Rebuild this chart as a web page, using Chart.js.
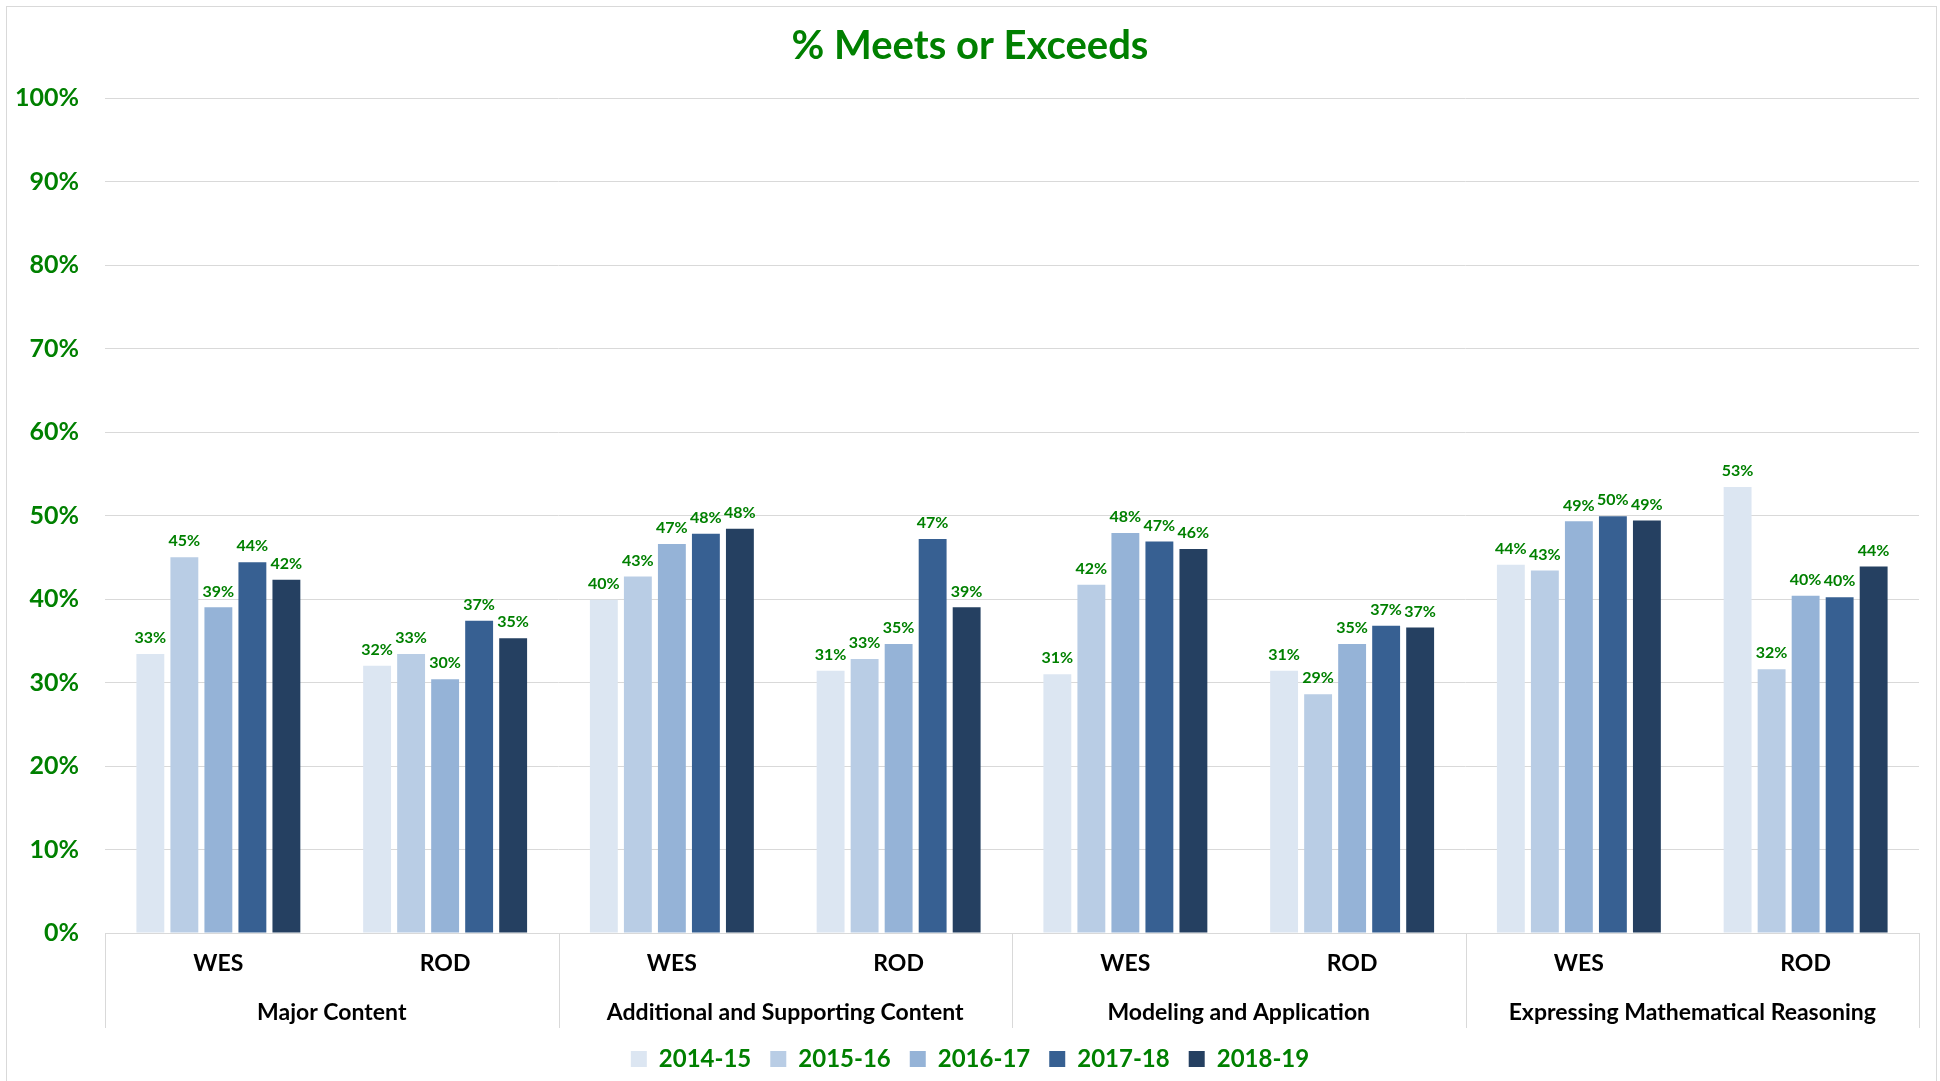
<!DOCTYPE html>
<html lang="en">
<head>
    <meta charset="UTF-8">
    <title>% Meets or Exceeds</title>
    <script src="https://cdn.jsdelivr.net/npm/chart.js"></script>
    <style>
        html, body { margin: 0; padding: 0; background: #ffffff; }
        #wrap { width: 1940px; height: 1081px; }
    </style>
</head>
<body>
    <div id="wrap"><canvas id="chart" width="1940" height="1081"></canvas></div>

    <script>
        // categories (schools inside each content group)
        const schools = ['WES', 'ROD', 'WES', 'ROD', 'WES', 'ROD', 'WES', 'ROD'];
        const groups = ['Major Content', 'Additional and Supporting Content', 'Modeling and Application', 'Expressing Mathematical Reasoning'];
        const years = ['2014-15', '2015-16', '2016-17', '2017-18', '2018-19'];

        // % meets or exceeds, one array per year
        const y2014 = [33.4, 32.0, 39.9, 31.4, 31.0, 31.4, 44.1, 53.4];
        const y2015 = [45.0, 33.4, 42.7, 32.8, 41.7, 28.6, 43.4, 31.6];
        const y2016 = [39.0, 30.4, 46.6, 34.6, 47.9, 34.6, 49.3, 40.4];
        const y2017 = [44.4, 37.4, 47.8, 47.2, 46.9, 36.8, 49.9, 40.2];
        const y2018 = [42.3, 35.3, 48.4, 39.0, 46.0, 36.6, 49.4, 43.9];

        const yTicks = [0, 10, 20, 30, 40, 50, 60, 70, 80, 90, 100];

        const colors = ['#dce6f2', '#b9cde5', '#95b3d7', '#376092', '#254061'];
        const green = '#008000';
        const fontFam = 'Lato, "Open Sans", sans-serif';

        const series = [y2014, y2015, y2016, y2017, y2018];

        // value labels above bars
        const barLabels = {
            id: 'barLabels',
            afterDatasetsDraw(chart) {
                const ctx = chart.ctx;
                ctx.save();
                ctx.fillStyle = green;
                ctx.font = 'bold 16px ' + fontFam;
                ctx.textAlign = 'center';
                ctx.textBaseline = 'bottom';
                chart.data.datasets.forEach((ds, i) => {
                    chart.getDatasetMeta(i).data.forEach((bar, j) => {
                        ctx.fillText(Math.round(ds.data[j]) + '%', bar.x, bar.y - 8);
                    });
                });
                ctx.restore();
            }
        };

        // group separators below the axis + outer frame
        const groupLines = {
            id: 'groupLines',
            beforeDraw(chart) {
                const ctx = chart.ctx;
                ctx.save();
                ctx.strokeStyle = '#d9d9d9';
                ctx.lineWidth = 1;
                ctx.strokeRect(6.5, 6.5, 1930, 1200);
                ctx.restore();
            },
            afterDraw(chart) {
                const ctx = chart.ctx;
                const x = chart.scales.x;
                const x2 = chart.scales.x2;
                ctx.save();
                ctx.strokeStyle = '#d9d9d9';
                ctx.lineWidth = 1;
                for (let i = 0; i <= groups.length; i++) {
                    const px = Math.round(x.getPixelForValue(i * 2 - 0.5)) + 0.5;
                    ctx.beginPath();
                    ctx.moveTo(px, chart.chartArea.bottom);
                    ctx.lineTo(px, x2.bottom);
                    ctx.stroke();
                }
                ctx.restore();
            }
        };

        new Chart(document.getElementById('chart'), {
            type: 'bar',
            data: {
                labels: schools,
                datasets: years.map((y, i) => ({
                    label: y,
                    data: series[i],
                    backgroundColor: colors[i],
                    xAxisID: 'x',
                    barPercentage: 0.82,
                    categoryPercentage: 0.75
                }))
            },
            options: {
                responsive: false,
                animation: false,
                layout: { padding: 0 },
                plugins: {
                    tooltip: { enabled: false },
                    title: {
                        display: true,
                        text: '% Meets or Exceeds',
                        color: green,
                        font: { family: fontFam, size: 40, weight: 'bold' },
                        padding: { top: 22, bottom: 28 }
                    },
                    legend: {
                        position: 'bottom',
                        labels: {
                            color: green,
                            font: { family: fontFam, size: 24, weight: 'bold', lineHeight: 1 },
                            boxWidth: 16,
                            boxHeight: 16,
                            padding: 19
                        }
                    }
                },
                scales: {
                    x: {
                        grid: { display: false, drawTicks: false },
                        border: { color: '#d9d9d9' },
                        ticks: {
                            color: '#000000',
                            font: { family: fontFam, size: 23, weight: 'bold' },
                            padding: 17,
                            maxRotation: 0
                        },
                        afterFit(s) { s.height = 58; }
                    },
                    x2: {
                        type: 'category',
                        labels: groups,
                        position: 'bottom',
                        offset: true,
                        grid: { display: false, drawTicks: false },
                        border: { display: false },
                        ticks: {
                            color: '#000000',
                            font: { family: fontFam, size: 23, weight: 'bold' },
                            padding: 8,
                            maxRotation: 0
                        },
                        afterFit(s) { s.height = 37; }
                    },
                    y: {
                        min: 0,
                        max: 100,
                        afterBuildTicks(s) { s.ticks = yTicks.map(v => ({ value: v })); },
                        grid: { color: '#d9d9d9', drawTicks: false },
                        border: { display: false },
                        ticks: {
                            color: green,
                            font: { family: fontFam, size: 25, weight: 'bold' },
                            padding: 26,
                            callback: v => v + '%'
                        },
                        afterFit(s) { s.width = 105; }
                    },
                    // empty right-hand spacer so the plot ends where the reference does
                    yRight: {
                        type: 'linear',
                        position: 'right',
                        grid: { display: false, drawTicks: false },
                        border: { display: false },
                        ticks: { display: false },
                        afterFit(s) { s.width = 21; }
                    }
                }
            },
            plugins: [barLabels, groupLines]
        });
    </script>
</body>
</html>
